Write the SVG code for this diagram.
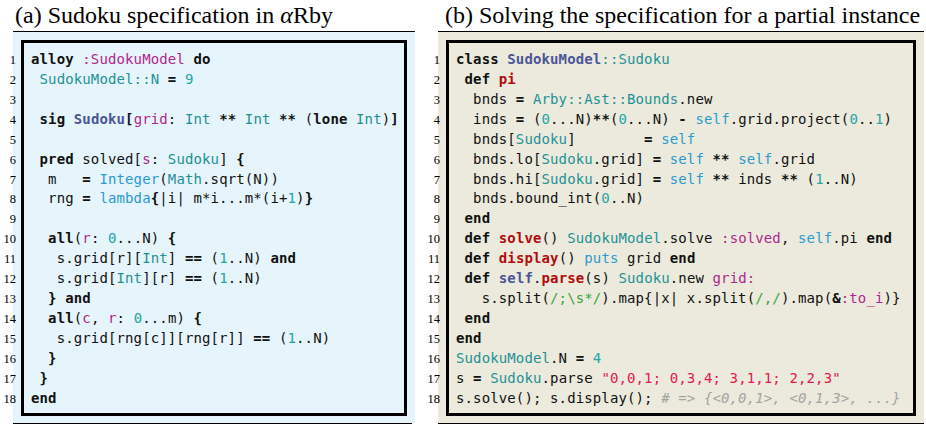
<svg xmlns="http://www.w3.org/2000/svg" width="926" height="426" viewBox="0 0 926 426">
<style>
.title{font-family:"Liberation Serif","Times New Roman",serif;font-size:24px;fill:#000}
.ln{font-family:"Liberation Serif","Times New Roman",serif;font-size:12.5px;fill:#000;text-anchor:end}
.code{font-family:"DejaVu Sans Mono",monospace;font-size:14px;letter-spacing:0.12px;fill:#111;white-space:pre}
.k{font-weight:bold;fill:#111}
.m{fill:#b0278d}
.t{fill:#1f9196}
.n{fill:#22a6a8}
.b{fill:#2b9bd0}
.s{fill:#4b5597;font-weight:bold}
.r{fill:#b00d0d;font-weight:bold}
.g{fill:#3aa53a}
.q{fill:#e2194f}
.c{fill:#a3a3a3;font-style:italic}
.rule{stroke:#000;stroke-width:1.2}
.box{fill:none;stroke:#000;stroke-width:3}
</style>
<rect width="926" height="426" fill="#fff"/>
<g id="panel-a">
<text class="title" x="15" y="23">(a) Sudoku specification in <tspan font-style="italic">α</tspan>Rby</text>
<rect x="13" y="31" width="402" height="392" fill="#e6f4fb"/>
<line class="rule" x1="13" y1="31.5" x2="415" y2="31.5"/>
<line class="rule" x1="13" y1="423.5" x2="412" y2="423.5"/>
<rect class="box" x="22.5" y="41.5" width="383" height="373"/>
<g id="a-linenums">
<text class="ln" x="16" y="64">1</text>
<text class="ln" x="16" y="83.9">2</text>
<text class="ln" x="16" y="103.8">3</text>
<text class="ln" x="16" y="123.8">4</text>
<text class="ln" x="16" y="143.7">5</text>
<text class="ln" x="16" y="163.6">6</text>
<text class="ln" x="16" y="183.5">7</text>
<text class="ln" x="16" y="203.4">8</text>
<text class="ln" x="16" y="223.4">9</text>
<text class="ln" x="16" y="243.3">10</text>
<text class="ln" x="16" y="263.2">11</text>
<text class="ln" x="16" y="283.1">12</text>
<text class="ln" x="16" y="303">13</text>
<text class="ln" x="16" y="323">14</text>
<text class="ln" x="16" y="342.9">15</text>
<text class="ln" x="16" y="362.8">16</text>
<text class="ln" x="16" y="382.7">17</text>
<text class="ln" x="16" y="402.6">18</text>
</g>
<g id="a-code">
<text class="code" x="31" y="64"><tspan class="k">alloy</tspan> <tspan class="m">:SudokuModel</tspan> <tspan class="k">do</tspan></text>
<text class="code" x="31" y="83.9"> <tspan class="t">SudokuModel::N</tspan> <tspan class="k">=</tspan> <tspan class="n">9</tspan></text>
<text class="code" x="31" y="123.8"> <tspan class="k">sig</tspan> <tspan class="s">Sudoku</tspan><tspan class="k">[</tspan><tspan class="m">grid</tspan>: <tspan class="t">Int</tspan> <tspan class="k">**</tspan> <tspan class="t">Int</tspan> <tspan class="k">**</tspan> (<tspan class="k">lone</tspan> <tspan class="t">Int</tspan>)<tspan class="k">]</tspan></text>
<text class="code" x="31" y="163.6"> <tspan class="k">pred</tspan> solved[<tspan class="m">s</tspan>: <tspan class="t">Sudoku</tspan>] <tspan class="k">{</tspan></text>
<text class="code" x="31" y="183.5">  m   <tspan class="k">=</tspan> <tspan class="b">Integer</tspan>(<tspan class="t">Math</tspan>.sqrt(N))</text>
<text class="code" x="31" y="203.4">  rng <tspan class="k">=</tspan> <tspan class="b">lambda</tspan><tspan class="k">{</tspan>|i| m*i...m*(i+<tspan class="n">1</tspan>)<tspan class="k">}</tspan></text>
<text class="code" x="31" y="243.3">  <tspan class="k">all</tspan>(<tspan class="m">r</tspan>: <tspan class="n">0</tspan>...N) <tspan class="k">{</tspan></text>
<text class="code" x="31" y="263.2">   s.grid[r][<tspan class="t">Int</tspan>] <tspan class="k">==</tspan> (<tspan class="n">1</tspan>..N) <tspan class="k">and</tspan></text>
<text class="code" x="31" y="283.1">   s.grid[<tspan class="t">Int</tspan>][r] <tspan class="k">==</tspan> (<tspan class="n">1</tspan>..N)</text>
<text class="code" x="31" y="303">  <tspan class="k">} and</tspan></text>
<text class="code" x="31" y="323">  <tspan class="k">all</tspan>(<tspan class="m">c</tspan>, <tspan class="m">r</tspan>: <tspan class="n">0</tspan>...m) <tspan class="k">{</tspan></text>
<text class="code" x="31" y="342.9">   s.grid[rng[c]][rng[r]] <tspan class="k">==</tspan> (<tspan class="n">1</tspan>..N)</text>
<text class="code" x="31" y="362.8">  <tspan class="k">}</tspan></text>
<text class="code" x="31" y="382.7"> <tspan class="k">}</tspan></text>
<text class="code" x="31" y="402.6"><tspan class="k">end</tspan></text>
</g>
</g>
<g id="panel-b">
<text class="title" x="445" y="23">(b) Solving the specification for a partial instance</text>
<rect x="438" y="31" width="486" height="392" fill="#ebeadc"/>
<line class="rule" x1="438" y1="31.5" x2="924" y2="31.5"/>
<line class="rule" x1="438" y1="423.5" x2="924" y2="423.5"/>
<rect class="box" x="447.5" y="41.5" width="467" height="373"/>
<g id="b-linenums">
<text class="ln" x="440" y="64">1</text>
<text class="ln" x="440" y="83.9">2</text>
<text class="ln" x="440" y="103.8">3</text>
<text class="ln" x="440" y="123.8">4</text>
<text class="ln" x="440" y="143.7">5</text>
<text class="ln" x="440" y="163.6">6</text>
<text class="ln" x="440" y="183.5">7</text>
<text class="ln" x="440" y="203.4">8</text>
<text class="ln" x="440" y="223.4">9</text>
<text class="ln" x="440" y="243.3">10</text>
<text class="ln" x="440" y="263.2">11</text>
<text class="ln" x="440" y="283.1">12</text>
<text class="ln" x="440" y="303">13</text>
<text class="ln" x="440" y="323">14</text>
<text class="ln" x="440" y="342.9">15</text>
<text class="ln" x="440" y="362.8">16</text>
<text class="ln" x="440" y="382.7">17</text>
<text class="ln" x="440" y="402.6">18</text>
</g>
<g id="b-code">
<text class="code" x="456" y="64"><tspan class="k">class</tspan> <tspan class="s">SudokuModel</tspan><tspan class="t">::Sudoku</tspan></text>
<text class="code" x="456" y="83.9"> <tspan class="k">def</tspan> <tspan class="r">pi</tspan></text>
<text class="code" x="456" y="103.8">  bnds <tspan class="k">=</tspan> <tspan class="t">Arby::Ast::Bounds</tspan>.new</text>
<text class="code" x="456" y="123.8">  inds <tspan class="k">=</tspan> (<tspan class="n">0</tspan>...N)<tspan class="k">**</tspan>(<tspan class="n">0</tspan>...N) <tspan class="k">-</tspan> <tspan class="b">self</tspan>.grid.project(<tspan class="n">0</tspan>..<tspan class="n">1</tspan>)</text>
<text class="code" x="456" y="143.7">  bnds[<tspan class="t">Sudoku</tspan>]        <tspan class="k">=</tspan> <tspan class="b">self</tspan></text>
<text class="code" x="456" y="163.6">  bnds.lo[<tspan class="t">Sudoku</tspan>.grid] <tspan class="k">=</tspan> <tspan class="b">self</tspan> <tspan class="k">**</tspan> <tspan class="b">self</tspan>.grid</text>
<text class="code" x="456" y="183.5">  bnds.hi[<tspan class="t">Sudoku</tspan>.grid] <tspan class="k">=</tspan> <tspan class="b">self</tspan> <tspan class="k">**</tspan> inds <tspan class="k">**</tspan> (<tspan class="n">1</tspan>..N)</text>
<text class="code" x="456" y="203.4">  bnds.bound_int(<tspan class="n">0</tspan>..N)</text>
<text class="code" x="456" y="223.4"> <tspan class="k">end</tspan></text>
<text class="code" x="456" y="243.3"> <tspan class="k">def</tspan> <tspan class="r">solve</tspan>() <tspan class="t">SudokuModel</tspan>.solve <tspan class="m">:solved</tspan>, <tspan class="b">self</tspan>.pi <tspan class="k">end</tspan></text>
<text class="code" x="456" y="263.2"> <tspan class="k">def</tspan> <tspan class="r">display</tspan>() <tspan class="b">puts</tspan> grid <tspan class="k">end</tspan></text>
<text class="code" x="456" y="283.1"> <tspan class="k">def</tspan> <tspan class="s">self</tspan>.<tspan class="r">parse</tspan>(s) <tspan class="t">Sudoku</tspan>.new <tspan class="m">grid:</tspan></text>
<text class="code" x="456" y="303">   s.split(<tspan class="g">/;\s*/</tspan>).map{|x| x.split(<tspan class="g">/,/</tspan>).map(<tspan class="k">&amp;</tspan><tspan class="m">:to_i</tspan>)}</text>
<text class="code" x="456" y="323"> <tspan class="k">end</tspan></text>
<text class="code" x="456" y="342.9"><tspan class="k">end</tspan></text>
<text class="code" x="456" y="362.8"><tspan class="t">SudokuModel</tspan>.N <tspan class="k">=</tspan> <tspan class="n">4</tspan></text>
<text class="code" x="456" y="382.7">s <tspan class="k">=</tspan> <tspan class="t">Sudoku</tspan>.parse <tspan class="q">"0,0,1; 0,3,4; 3,1,1; 2,2,3"</tspan></text>
<text class="code" x="456" y="402.6">s.solve(); s.display(); <tspan class="c"># =&gt; {&lt;0,0,1&gt;, &lt;0,1,3&gt;, ...}</tspan></text>
</g>
</g>
</svg>
